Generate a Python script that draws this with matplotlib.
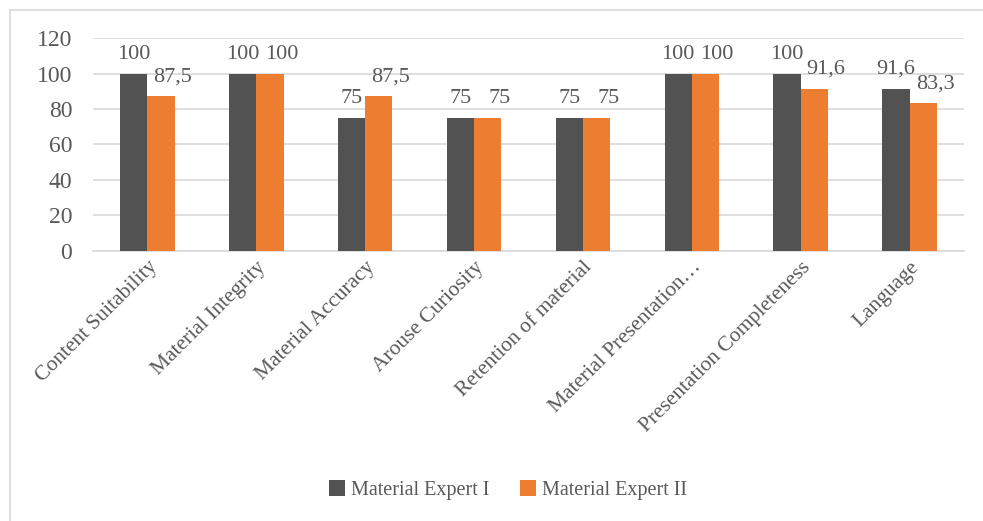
import matplotlib.pyplot as plt
import numpy as np
from matplotlib.lines import Line2D


categories = ["Content Suitability", "Material Integrity", "Material Accuracy",
              "Arouse Curiosity", "Retention of material",
              "Material Presentation\u2026", "Presentation Completeness", "Language"]
expert1 = [100, 100, 75, 75, 75, 100, 100, 91.6]
expert2 = [87.5, 100, 87.5, 75, 75, 100, 91.6, 83.3]
series_names = ["Material Expert I", "Material Expert II"]

DARK = "#525252"
ORANGE = "#ed7d31"
TXT = "#595959"
GRID = "#d9d9d9"

plt.rcParams['font.family'] = ['Liberation Serif', 'DejaVu Serif']

fig = plt.figure(figsize=(9.83, 5.21), dpi=100)
ax = fig.add_axes([0.0946, 0.5188, 0.8861, 0.4077])

x = np.arange(len(categories))
w = 0.25
ax.bar(x - w / 2, expert1, w, color=DARK, label=series_names[0], zorder=3)
ax.bar(x + w / 2, expert2, w, color=ORANGE, label=series_names[1], zorder=3)


def fmt(v):
    return f"{v:g}".replace(".", ",")


# data labels (excel puts the orange ones a bit to the right)
for xi, v in zip(x - w / 2, expert1):
    ax.annotate(fmt(v), (xi, v), xytext=(0, 10.5), textcoords="offset points",
                ha="center", va="baseline", fontsize=16, color=TXT, zorder=4)
for xi, v in zip(x + w / 2, expert2):
    ax.annotate(fmt(v), (xi, v), xytext=(8.5, 10.5), textcoords="offset points",
                ha="center", va="baseline", fontsize=16, color=TXT, zorder=4)

ax.set_xlim(-0.5, len(categories) - 0.5)
ax.set_ylim(0, 120)
ax.set_yticks(range(0, 121, 20))
ax.yaxis.grid(True, color=GRID, linewidth=1.2, zorder=0)
ax.set_axisbelow(True)
for sp in ["top", "right", "left"]:
    ax.spines[sp].set_visible(False)
ax.spines["bottom"].set_color(GRID)
ax.spines["bottom"].set_linewidth(1.2)
ax.tick_params(axis="both", length=0, colors=TXT)
ax.tick_params(axis="y", labelsize=17, pad=15)
ax.set_xticks(x)
ax.set_xticklabels(categories, rotation=45, ha="right", rotation_mode="anchor",
                   fontsize=15.5, color=TXT)
ax.tick_params(axis="x", pad=5)

fig.legend(loc="center", bbox_to_anchor=(508 / 983, 1 - 490 / 521), ncol=2,
           frameon=False, fontsize=14.5, labelcolor=TXT,
           handlelength=0.8, handleheight=0.8, handletextpad=0.3,
           columnspacing=1.5)

# chart border (only left and top visible in the crop)
fig.add_artist(Line2D([10 / 983, 1], [1 - 10 / 521, 1 - 10 / 521],
                      transform=fig.transFigure, color=GRID, linewidth=1.2))
fig.add_artist(Line2D([10 / 983, 10 / 983], [0, 1 - 10 / 521],
                      transform=fig.transFigure, color=GRID, linewidth=1.2))

fig.savefig("out.png", dpi=100, facecolor="white")
